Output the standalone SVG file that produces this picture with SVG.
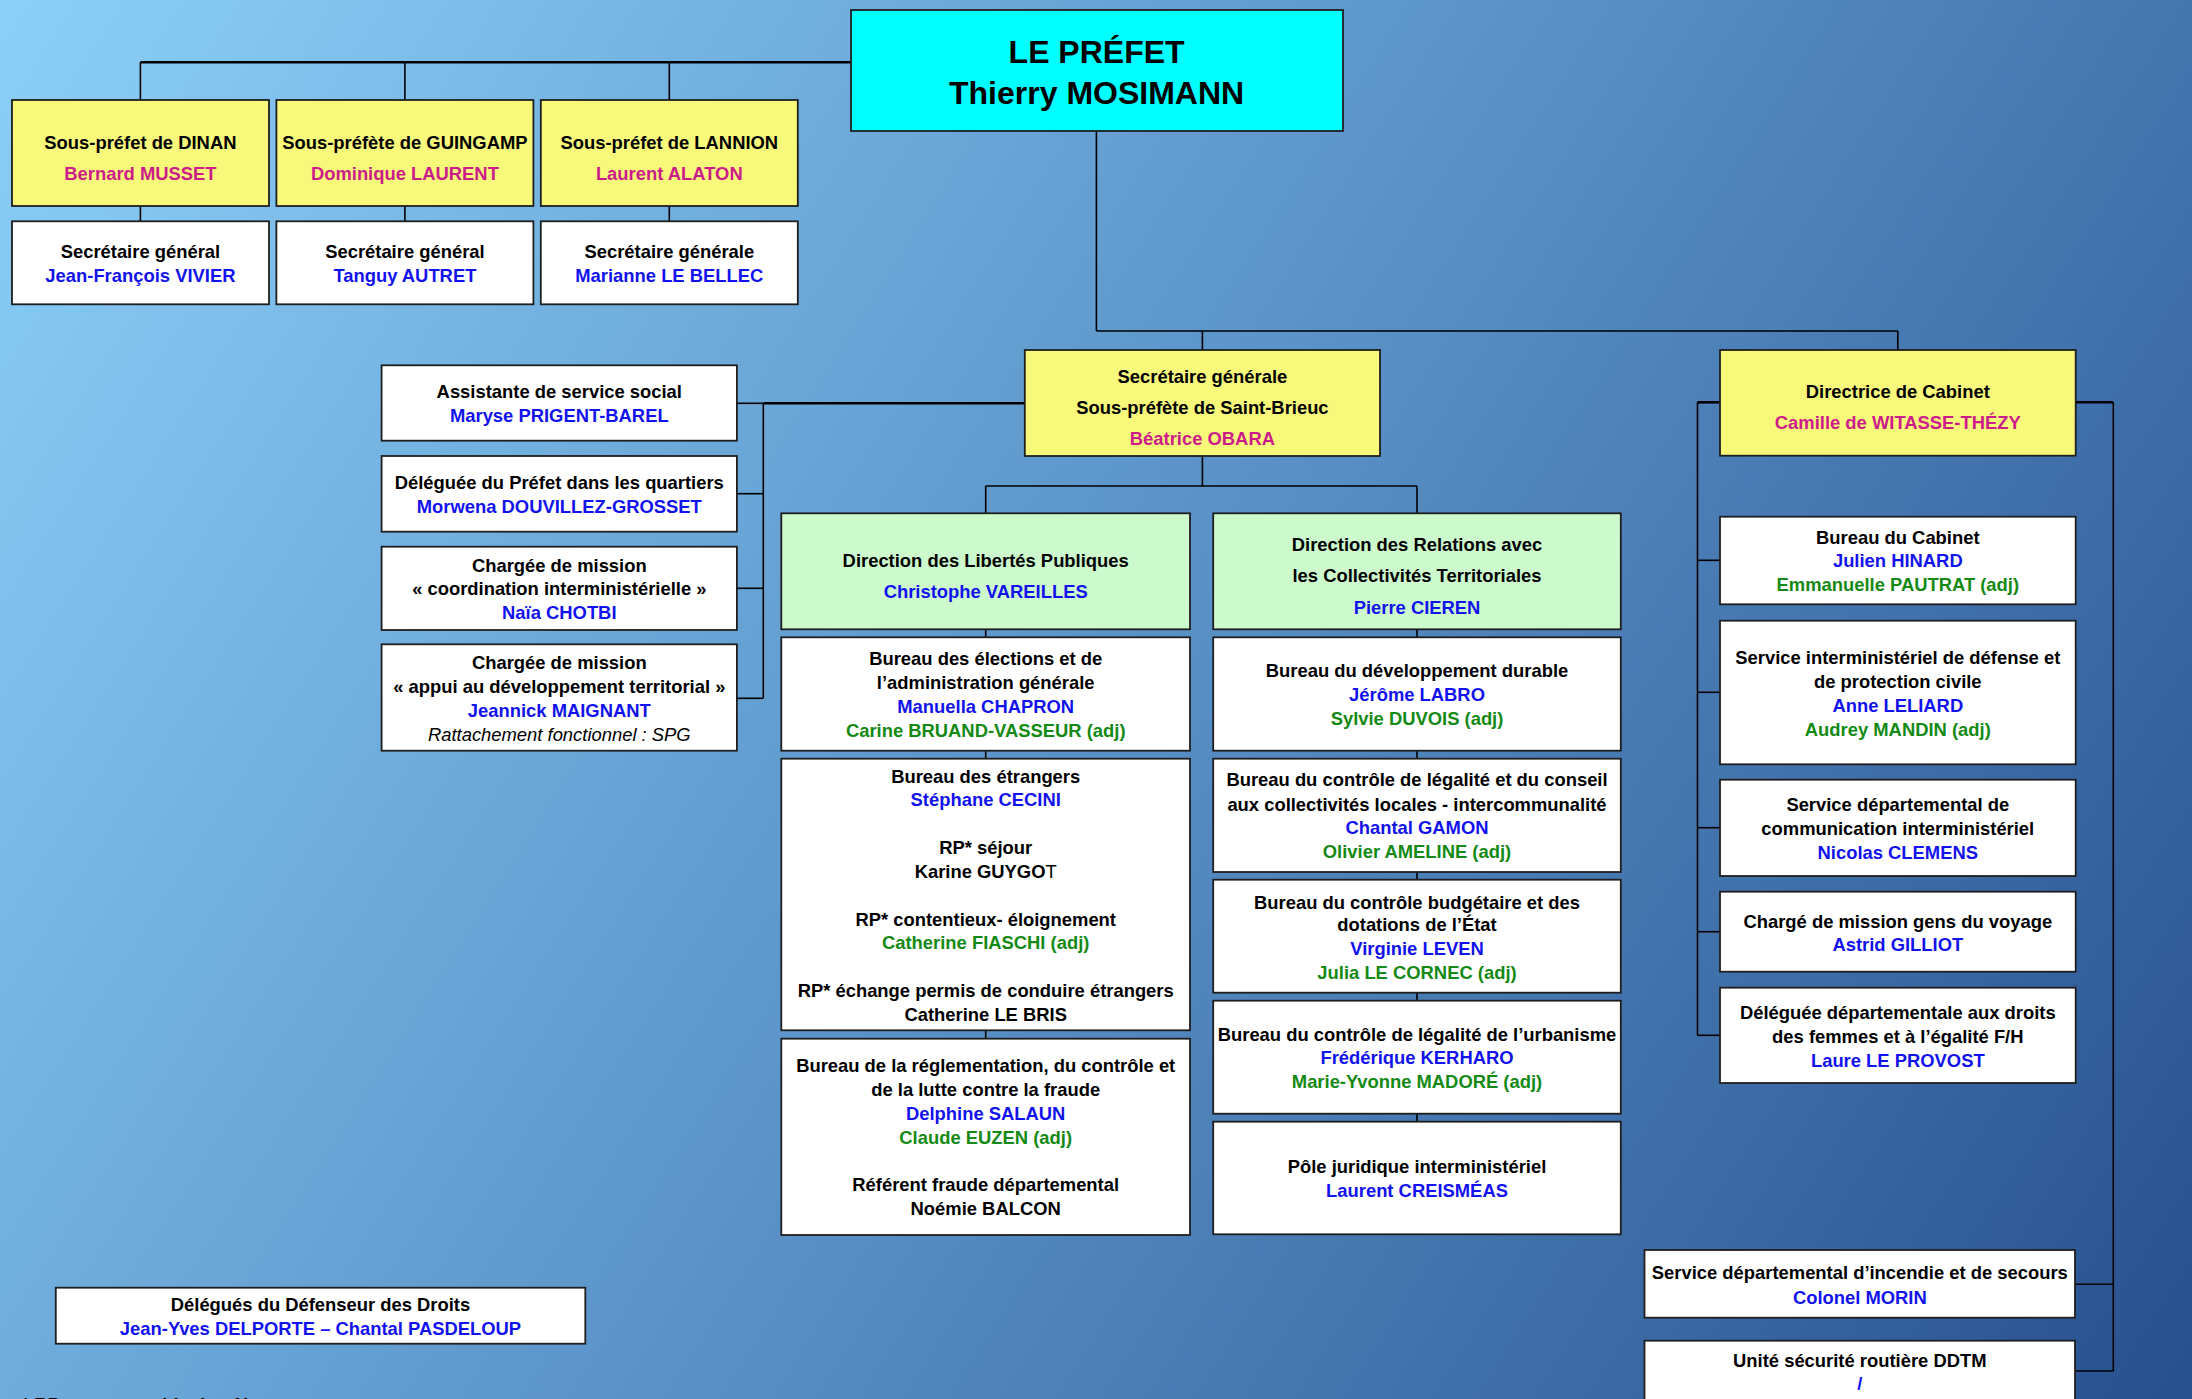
<svg xmlns="http://www.w3.org/2000/svg" width="2192" height="1399" viewBox="0 0 2192 1399">
<defs>
<linearGradient id="bg" gradientUnits="userSpaceOnUse" x1="0" y1="0" x2="2192" y2="1399">
<stop offset="0" stop-color="#8BD0F8"/>
<stop offset="0.5" stop-color="#5A92C7"/>
<stop offset="1" stop-color="#27508E"/>
</linearGradient>
<style>
.box{fill:#fff;stroke:#1e1e1e;stroke-width:1.8}
.y{fill:#F8F87B}
.g{fill:#CCFACC}
.c{fill:#00FFFF}
text{font-family:"Liberation Sans",Arial,sans-serif;font-weight:bold;font-size:18.4px;text-anchor:middle;fill:#000;transform:translateY(-1.2px)}
.m{fill:#CC1C8A}
.u{fill:#1212EE}
.v{fill:#148A14}
.it{font-style:italic;font-weight:normal}
.big{font-size:32px}
#connectors line{stroke:#000;stroke-width:1.6}
#connectors line.thick{stroke-width:2.6}
</style>
</defs>
<rect x="0" y="0" width="2192" height="1399" fill="url(#bg)"/>

<g id="connectors">
<line x1="140.4" y1="62.3" x2="851" y2="62.3" class="thick"/>
<line x1="140.4" y1="62.3" x2="140.4" y2="100"/>
<line x1="404.9" y1="62.3" x2="404.9" y2="100"/>
<line x1="669.3" y1="62.3" x2="669.3" y2="100"/>
<line x1="140.4" y1="206" x2="140.4" y2="221.3"/>
<line x1="404.9" y1="206" x2="404.9" y2="221.3"/>
<line x1="669.3" y1="206" x2="669.3" y2="221.3"/>
<line x1="1096.4" y1="131" x2="1096.4" y2="331"/>
<line x1="1096.4" y1="331" x2="1897.8" y2="331"/>
<line x1="1202.4" y1="331" x2="1202.4" y2="350"/>
<line x1="1897.8" y1="331" x2="1897.8" y2="350"/>
<line x1="763.3" y1="403.3" x2="1024.8" y2="403.3" class="thick"/>
<line x1="763.3" y1="403.3" x2="763.3" y2="698.3"/>
<line x1="736.9" y1="403.3" x2="763.3" y2="403.3"/>
<line x1="736.9" y1="493.7" x2="763.3" y2="493.7"/>
<line x1="736.9" y1="588.3" x2="763.3" y2="588.3"/>
<line x1="736.9" y1="698.3" x2="763.3" y2="698.3"/>
<line x1="1202.4" y1="456" x2="1202.4" y2="486"/>
<line x1="985.7" y1="486" x2="1417" y2="486"/>
<line x1="985.7" y1="486" x2="985.7" y2="513.3"/>
<line x1="1417" y1="486" x2="1417" y2="513.3"/>
<line x1="985.7" y1="629.3" x2="985.7" y2="637.3"/>
<line x1="985.7" y1="750.7" x2="985.7" y2="758.7"/>
<line x1="985.7" y1="1030.3" x2="985.7" y2="1038.7"/>
<line x1="1417" y1="629.3" x2="1417" y2="637.3"/>
<line x1="1417" y1="750.7" x2="1417" y2="758.7"/>
<line x1="1417" y1="872" x2="1417" y2="879.7"/>
<line x1="1417" y1="992.7" x2="1417" y2="1000.7"/>
<line x1="1417" y1="1113.7" x2="1417" y2="1121.7"/>
<line x1="1697.5" y1="402.3" x2="1720" y2="402.3" class="thick"/>
<line x1="1697.5" y1="402.3" x2="1697.5" y2="1035.3"/>
<line x1="1697.5" y1="560.3" x2="1720" y2="560.3"/>
<line x1="1697.5" y1="692.3" x2="1720" y2="692.3"/>
<line x1="1697.5" y1="827.7" x2="1720" y2="827.7"/>
<line x1="1697.5" y1="931.7" x2="1720" y2="931.7"/>
<line x1="1697.5" y1="1035.3" x2="1720" y2="1035.3"/>
<line x1="2075.7" y1="402.3" x2="2113.3" y2="402.3" class="thick"/>
<line x1="2113.3" y1="402.3" x2="2113.3" y2="1371"/>
<line x1="2075" y1="1284.3" x2="2113.3" y2="1284.3"/>
<line x1="2075" y1="1371" x2="2113.3" y2="1371"/>
</g>

<g id="prefet">
<rect class="box c" x="851" y="10" width="492" height="121"/>
<text class="big" x="1096.6" y="64">LE PRÉFET</text>
<text class="big" x="1096.6" y="105">Thierry MOSIMANN</text>
</g>

<g id="sp-dinan">
<rect class="box y" x="12" y="100" width="257" height="106"/>
<text x="140.4" y="150.6">Sous-préfet de DINAN</text>
<text class="m" x="140.4" y="181">Bernard MUSSET</text>
</g>
<g id="sp-guingamp">
<rect class="box y" x="276.4" y="100" width="257" height="106"/>
<text x="404.9" y="150.6">Sous-préfète de GUINGAMP</text>
<text class="m" x="404.9" y="181">Dominique LAURENT</text>
</g>
<g id="sp-lannion">
<rect class="box y" x="540.8" y="100" width="257" height="106"/>
<text x="669.3" y="150.6">Sous-préfet de LANNION</text>
<text class="m" x="669.3" y="181">Laurent ALATON</text>
</g>

<g id="sg-dinan">
<rect class="box" x="12" y="221.3" width="257" height="83"/>
<text x="140.4" y="259">Secrétaire général</text>
<text class="u" x="140.4" y="283">Jean-François VIVIER</text>
</g>
<g id="sg-guingamp">
<rect class="box" x="276.4" y="221.3" width="257" height="83"/>
<text x="404.9" y="259">Secrétaire général</text>
<text class="u" x="404.9" y="283">Tanguy AUTRET</text>
</g>
<g id="sg-lannion">
<rect class="box" x="540.8" y="221.3" width="257" height="83"/>
<text x="669.3" y="259">Secrétaire générale</text>
<text class="u" x="669.3" y="283">Marianne LE BELLEC</text>
</g>

<g id="assistante">
<rect class="box" x="381.6" y="365.3" width="355.3" height="75.4"/>
<text x="559.3" y="399">Assistante de service social</text>
<text class="u" x="559.3" y="423">Maryse PRIGENT-BAREL</text>
</g>
<g id="deleguee-quartiers">
<rect class="box" x="381.6" y="456" width="355.3" height="75.7"/>
<text x="559.3" y="490.5">Déléguée du Préfet dans les quartiers</text>
<text class="u" x="559.3" y="514">Morwena DOUVILLEZ-GROSSET</text>
</g>
<g id="cm-coordination">
<rect class="box" x="381.6" y="546.7" width="355.3" height="83.3"/>
<text x="559.3" y="573">Chargée de mission</text>
<text x="559.3" y="596">« coordination interministérielle »</text>
<text class="u" x="559.3" y="620">Naïa CHOTBI</text>
</g>
<g id="cm-appui">
<rect class="box" x="381.6" y="644.3" width="355.3" height="106.4"/>
<text x="559.3" y="670">Chargée de mission</text>
<text x="559.3" y="694">« appui au développement territorial »</text>
<text class="u" x="559.3" y="718">Jeannick MAIGNANT</text>
<text class="it" x="559.3" y="742">Rattachement fonctionnel : SPG</text>
</g>

<g id="secretaire-generale">
<rect class="box y" x="1024.8" y="350" width="355.2" height="106"/>
<text x="1202.4" y="384">Secrétaire générale</text>
<text x="1202.4" y="415.5">Sous-préfète de Saint-Brieuc</text>
<text class="m" x="1202.4" y="446">Béatrice OBARA</text>
</g>

<g id="dlp">
<rect class="box g" x="781.3" y="513.3" width="408.7" height="116"/>
<text x="985.7" y="568">Direction des Libertés Publiques</text>
<text class="u" x="985.7" y="599">Christophe VAREILLES</text>
</g>
<g id="bureau-elections">
<rect class="box" x="781.3" y="637.3" width="408.7" height="113.4"/>
<text x="985.7" y="666.5">Bureau des élections et de</text>
<text x="985.7" y="690">l’administration générale</text>
<text class="u" x="985.7" y="714">Manuella CHAPRON</text>
<text class="v" x="985.7" y="738">Carine BRUAND-VASSEUR (adj)</text>
</g>
<g id="bureau-etrangers">
<rect class="box" x="781.3" y="758.7" width="408.7" height="271.6"/>
<text x="985.7" y="784">Bureau des étrangers</text>
<text class="u" x="985.7" y="807.5">Stéphane CECINI</text>
<text x="985.7" y="855">RP* séjour</text>
<text x="985.7" y="879.5">Karine GUYGO<tspan font-weight="normal">T</tspan></text>
<text x="985.7" y="927.5">RP* contentieux- éloignement</text>
<text class="v" x="985.7" y="950.5">Catherine FIASCHI (adj)</text>
<text x="985.7" y="998.5">RP* échange permis de conduire étrangers</text>
<text x="985.7" y="1022">Catherine LE BRIS</text>
</g>
<g id="bureau-reglementation">
<rect class="box" x="781.3" y="1038.7" width="408.7" height="196.3"/>
<text x="985.7" y="1073">Bureau de la réglementation, du contrôle et</text>
<text x="985.7" y="1097">de la lutte contre la fraude</text>
<text class="u" x="985.7" y="1121">Delphine SALAUN</text>
<text class="v" x="985.7" y="1145">Claude EUZEN (adj)</text>
<text x="985.7" y="1192">Référent fraude départemental</text>
<text x="985.7" y="1216.5">Noémie BALCON</text>
</g>

<g id="drct">
<rect class="box g" x="1213.2" y="513.3" width="407.6" height="116"/>
<text x="1417" y="552">Direction des Relations avec</text>
<text x="1417" y="583">les Collectivités Territoriales</text>
<text class="u" x="1417" y="615">Pierre CIEREN</text>
</g>
<g id="bureau-dev-durable">
<rect class="box" x="1213.2" y="637.3" width="407.6" height="113.4"/>
<text x="1417" y="678">Bureau du développement durable</text>
<text class="u" x="1417" y="702.5">Jérôme LABRO</text>
<text class="v" x="1417" y="726.5">Sylvie DUVOIS (adj)</text>
</g>
<g id="bureau-legalite">
<rect class="box" x="1213.2" y="758.7" width="407.6" height="113.3"/>
<text x="1417" y="787.5">Bureau du contrôle de légalité et du conseil</text>
<text x="1417" y="812">aux collectivités locales - intercommunalité</text>
<text class="u" x="1417" y="835.5">Chantal GAMON</text>
<text class="v" x="1417" y="859.5">Olivier AMELINE (adj)</text>
</g>
<g id="bureau-budgetaire">
<rect class="box" x="1213.2" y="879.7" width="407.6" height="113"/>
<text x="1417" y="910">Bureau du contrôle budgétaire et des</text>
<text x="1417" y="932.5">dotations de l’État</text>
<text class="u" x="1417" y="956.5">Virginie LEVEN</text>
<text class="v" x="1417" y="980.5">Julia LE CORNEC (adj)</text>
</g>
<g id="bureau-urbanisme">
<rect class="box" x="1213.2" y="1000.7" width="407.6" height="113"/>
<text x="1417" y="1042">Bureau du contrôle de légalité de l’urbanisme</text>
<text class="u" x="1417" y="1065.5">Frédérique KERHARO</text>
<text class="v" x="1417" y="1089.5">Marie-Yvonne MADORÉ (adj)</text>
</g>
<g id="pole-juridique">
<rect class="box" x="1213.2" y="1121.7" width="407.6" height="112.6"/>
<text x="1417" y="1174.5">Pôle juridique interministériel</text>
<text class="u" x="1417" y="1198.5">Laurent CREISMÉAS</text>
</g>

<g id="directrice-cabinet">
<rect class="box y" x="1720" y="350" width="355.7" height="105.7"/>
<text x="1897.8" y="399">Directrice de Cabinet</text>
<text class="m" x="1897.8" y="430">Camille de WITASSE-THÉZY</text>
</g>
<g id="bureau-cabinet">
<rect class="box" x="1720" y="516.7" width="355.7" height="87.6"/>
<text x="1897.8" y="545.5">Bureau du Cabinet</text>
<text class="u" x="1897.8" y="568">Julien HINARD</text>
<text class="v" x="1897.8" y="592.5">Emmanuelle PAUTRAT (adj)</text>
</g>
<g id="sidpc">
<rect class="box" x="1720" y="620.7" width="355.7" height="143.6"/>
<text x="1897.8" y="665.5">Service interministériel de défense et</text>
<text x="1897.8" y="689">de protection civile</text>
<text class="u" x="1897.8" y="713">Anne LELIARD</text>
<text class="v" x="1897.8" y="737">Audrey MANDIN (adj)</text>
</g>
<g id="sdci">
<rect class="box" x="1720" y="779.7" width="355.7" height="96.3"/>
<text x="1897.8" y="812.5">Service départemental de</text>
<text x="1897.8" y="836.5">communication interministériel</text>
<text class="u" x="1897.8" y="860.5">Nicolas CLEMENS</text>
</g>
<g id="gens-du-voyage">
<rect class="box" x="1720" y="891.7" width="355.7" height="80"/>
<text x="1897.8" y="928.8">Chargé de mission gens du voyage</text>
<text class="u" x="1897.8" y="952.5">Astrid GILLIOT</text>
</g>
<g id="droits-femmes">
<rect class="box" x="1720" y="987.7" width="355.7" height="95.3"/>
<text x="1897.8" y="1020.5">Déléguée départementale aux droits</text>
<text x="1897.8" y="1044.5">des femmes et à l’égalité F/H</text>
<text class="u" x="1897.8" y="1068.5">Laure LE PROVOST</text>
</g>

<g id="sdis">
<rect class="box" x="1644.5" y="1250" width="430.5" height="67.7"/>
<text x="1859.8" y="1280.5">Service départemental d’incendie et de secours</text>
<text class="u" x="1859.8" y="1305">Colonel MORIN</text>
</g>
<g id="securite-routiere">
<rect class="box" x="1644.5" y="1340.7" width="430.5" height="80"/>
<text x="1859.8" y="1368">Unité sécurité routière DDTM</text>
<text class="u" x="1859.8" y="1391.5">/</text>
</g>

<g id="defenseur-droits">
<rect class="box" x="55.8" y="1287.7" width="529.5" height="56"/>
<text x="320.5" y="1312.5">Délégués du Défenseur des Droits</text>
<text class="u" x="320.5" y="1336.5">Jean-Yves DELPORTE – Chantal PASDELOUP</text>
</g>

<text x="22" y="1412" style="text-anchor:start">* RP = responsable de pôle</text>
</svg>
